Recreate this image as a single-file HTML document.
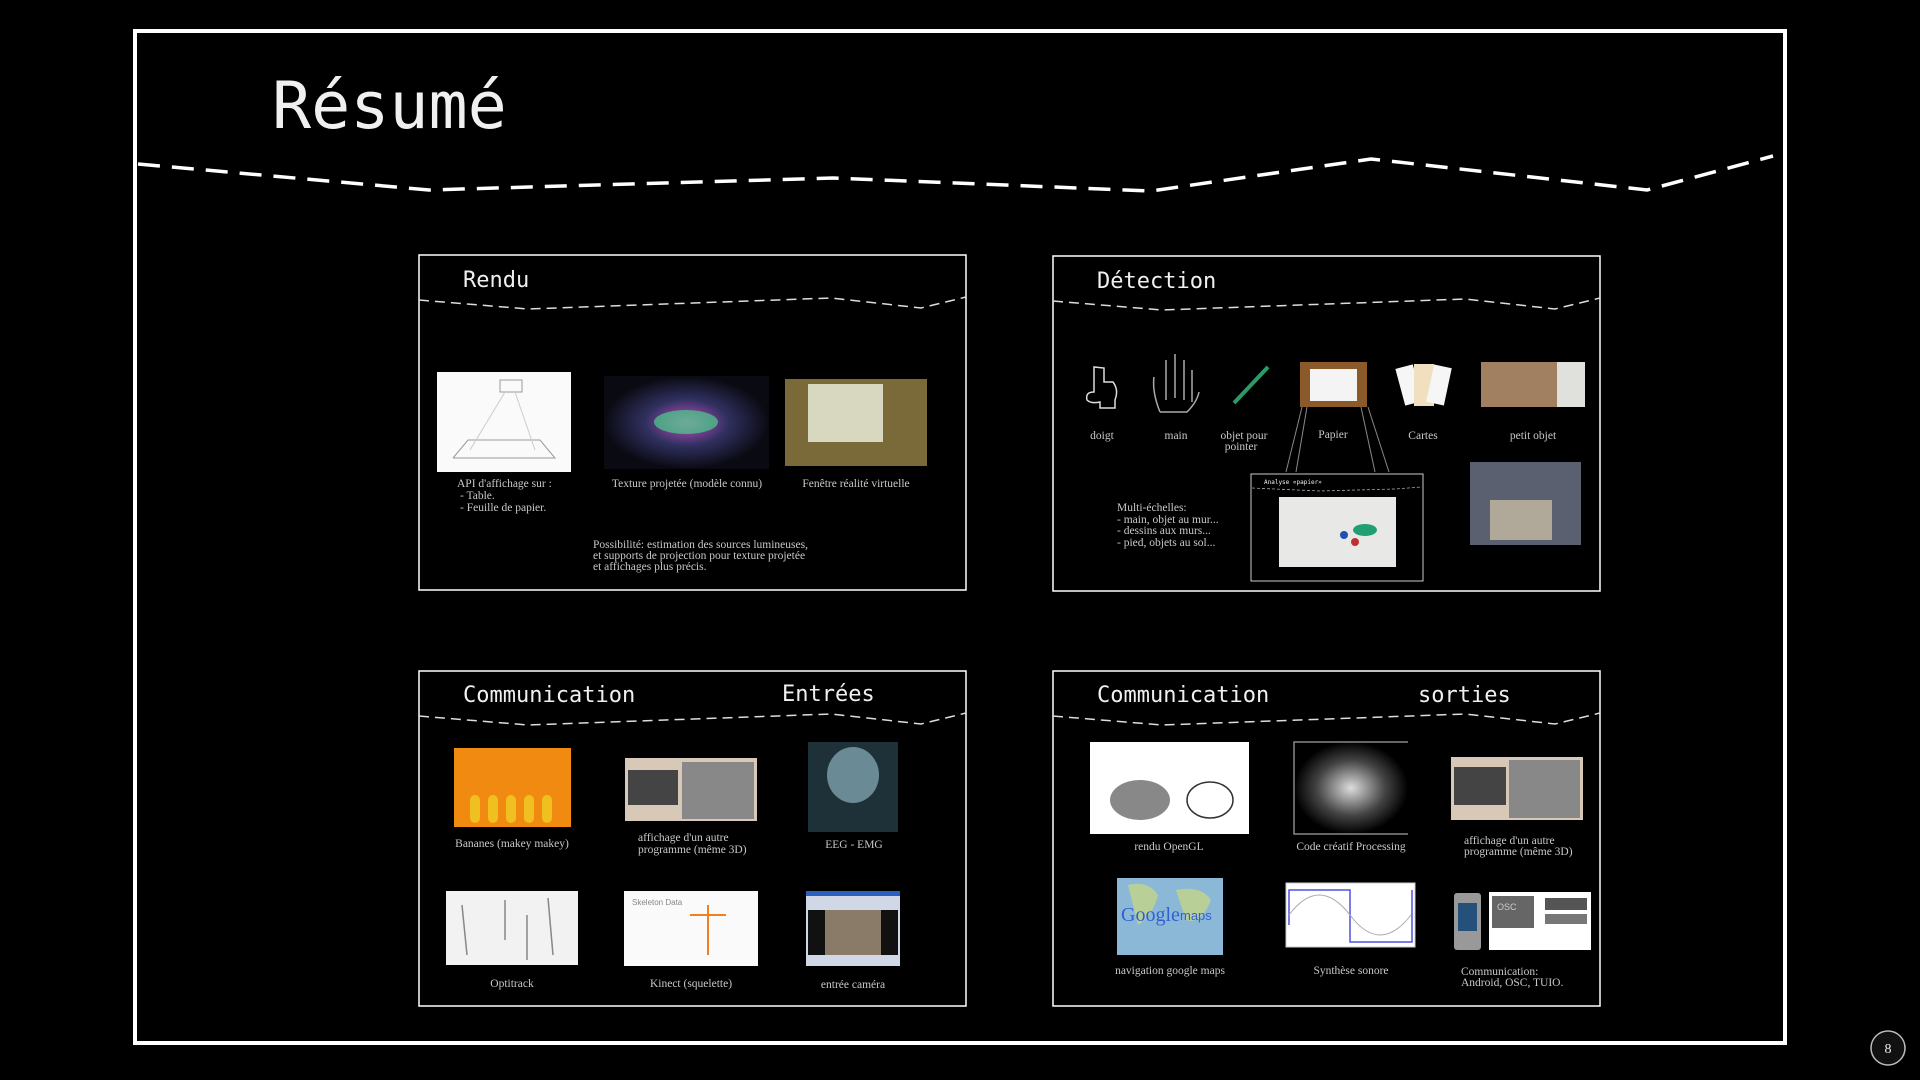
<!DOCTYPE html>
<html><head><meta charset="utf-8"><style>
html,body{margin:0;padding:0;background:#000;width:1920px;height:1080px;overflow:hidden}
svg{display:block}
.t{font-family:"Liberation Serif",serif;font-size:11.5px;fill:#c8c8c8}
.m{font-family:"DejaVu Sans Mono","Liberation Mono",monospace;fill:#f0f0f0}
</style></head><body>
<svg width="1920" height="1080" viewBox="0 0 1920 1080" xmlns="http://www.w3.org/2000/svg">
<defs>
<radialGradient id="rg" cx="50%" cy="50%" r="50%"><stop offset="0" stop-color="#ddd"/><stop offset="0.6" stop-color="#444"/><stop offset="1" stop-color="#000"/></radialGradient>
<radialGradient id="car" cx="50%" cy="50%" r="50%"><stop offset="0" stop-color="#c050c0"/><stop offset="0.5" stop-color="#303060"/><stop offset="1" stop-color="#0a0a12"/></radialGradient>
<g id="pd"><polyline points="0,45 109,54 412,43 502,53 547,42" fill="none" stroke="#ddd" stroke-width="1.5" stroke-dasharray="10,6"/></g>
</defs>
<rect x="135" y="31" width="1650" height="1012" fill="none" stroke="#fff" stroke-width="4"/>
<text x="272" y="128" class="m" font-size="65">Résumé</text>
<polyline points="138,164 429,190 833,178 1151,191 1371,159 1647,190 1773,156" fill="none" stroke="#fff" stroke-width="3.5" stroke-dasharray="22,12"/>

<!-- Rendu -->
<rect x="419" y="255" width="547" height="335" fill="none" stroke="#fff" stroke-width="1.5"/>
<text x="463" y="287" class="m" font-size="22">Rendu</text>
<use href="#pd" x="419" y="255"/>
<rect x="437" y="372" width="134" height="100" fill="#fafafa"/>
<polyline points="453,458 555,458 540,440 468,440 453,458" fill="none" stroke="#999"/>
<rect x="500" y="380" width="22" height="12" fill="none" stroke="#999"/>
<line x1="505" y1="392" x2="470" y2="450" stroke="#ccc"/><line x1="515" y1="392" x2="535" y2="450" stroke="#ccc"/>
<rect x="604" y="376" width="165" height="93" fill="url(#car)"/>
<ellipse cx="686" cy="422" rx="32" ry="12" fill="#4ad08a" opacity="0.7"/>
<rect x="785" y="379" width="142" height="87" fill="#7a6a3a"/>
<rect x="808" y="384" width="75" height="58" fill="#d8d8c0"/>
<text class="t" x="457" y="487">API d'affichage sur :</text>
<text class="t" x="460" y="499">- Table.</text>
<text class="t" x="460" y="511">- Feuille de papier.</text>
<text class="t" x="687" y="487" text-anchor="middle">Texture projetée (modèle connu)</text>
<text class="t" x="856" y="487" text-anchor="middle">Fenêtre réalité virtuelle</text>
<text class="t" x="593" y="548">Possibilité: estimation des sources lumineuses,</text>
<text class="t" x="593" y="559">et supports de projection pour texture projetée</text>
<text class="t" x="593" y="570">et affichages plus précis.</text>

<!-- Détection -->
<rect x="1053" y="256" width="547" height="335" fill="none" stroke="#fff" stroke-width="1.5"/>
<text x="1097" y="288" class="m" font-size="22">Détection</text>
<use href="#pd" x="1053" y="256"/>
<path d="M1094,367 v25 q-9,0 -7,8 q4,4 13,2 v6 h15 v-8 q4,-10 -2,-18 h-9 v-14 z" fill="none" stroke="#ddd" stroke-width="1.5"/>
<path d="M1160,412 q-8,-20 -6,-35 M1166,400 v-40 M1175,398 v-44 M1184,400 v-40 M1192,402 v-32 M1160,412 h27 q10,-10 12,-20" fill="none" stroke="#aaa" stroke-width="1.5"/>
<line x1="1234" y1="403" x2="1268" y2="367" stroke="#2a9a6a" stroke-width="4"/>
<rect x="1300" y="362" width="67" height="45" fill="#8a5a2a"/>
<rect x="1310" y="369" width="47" height="32" fill="#f4f4f4"/>
<rect x="1400" y="366" width="18" height="38" fill="#f6f6f6" transform="rotate(-15 1409 385)"/>
<rect x="1414" y="364" width="20" height="42" fill="#f0e0c0"/>
<rect x="1430" y="366" width="18" height="38" fill="#f6f6f6" transform="rotate(12 1439 385)"/>
<rect x="1481" y="362" width="76" height="45" fill="#a08060"/>
<rect x="1557" y="362" width="28" height="45" fill="#e0e0dc"/>
<text class="t" x="1102" y="439" text-anchor="middle">doigt</text>
<text class="t" x="1176" y="439" text-anchor="middle">main</text>
<text class="t" x="1244" y="439" text-anchor="middle">objet pour</text>
<text class="t" x="1241" y="450" text-anchor="middle">pointer</text>
<text class="t" x="1333" y="438" text-anchor="middle">Papier</text>
<text class="t" x="1423" y="439" text-anchor="middle">Cartes</text>
<text class="t" x="1533" y="439" text-anchor="middle">petit objet</text>
<g stroke="#888" stroke-width="1"><line x1="1302" y1="407" x2="1286" y2="472"/><line x1="1307" y1="407" x2="1296" y2="472"/><line x1="1361" y1="407" x2="1375" y2="472"/><line x1="1368" y1="407" x2="1389" y2="472"/></g>
<rect x="1251" y="474" width="172" height="107" fill="#000" stroke="#ccc" stroke-width="1"/>
<text x="1264" y="484" class="m" font-size="6">Analyse «papier»</text>
<polyline points="1252,488 1320,491 1395,489 1422,487" fill="none" stroke="#aaa" stroke-width="0.8" stroke-dasharray="3,2"/>
<rect x="1279" y="497" width="117" height="70" fill="#e8e8e6"/>
<ellipse cx="1365" cy="530" rx="12" ry="6" fill="#20a070"/>
<circle cx="1344" cy="535" r="4" fill="#2050b0"/><circle cx="1355" cy="542" r="4" fill="#c03030"/>
<rect x="1470" y="462" width="111" height="83" fill="#5a6070"/>
<rect x="1490" y="500" width="62" height="40" fill="#b0a898"/>
<text class="t" x="1117" y="511">Multi-échelles:</text>
<text class="t" x="1117" y="523">- main, objet au mur...</text>
<text class="t" x="1117" y="534">- dessins aux murs...</text>
<text class="t" x="1117" y="546">- pied, objets au sol...</text>

<!-- Communication Entrées -->
<rect x="419" y="671" width="547" height="335" fill="none" stroke="#fff" stroke-width="1.5"/>
<text x="463" y="702" class="m" font-size="22">Communication</text>
<text x="782" y="701" class="m" font-size="22">Entrées</text>
<use href="#pd" x="419" y="671"/>
<rect x="454" y="748" width="117" height="79" fill="#f08a10"/>
<g fill="#f0c020"><rect x="470" y="795" width="10" height="28" rx="5"/><rect x="488" y="795" width="10" height="28" rx="5"/><rect x="506" y="795" width="10" height="28" rx="5"/><rect x="524" y="795" width="10" height="28" rx="5"/><rect x="542" y="795" width="10" height="28" rx="5"/></g>
<rect x="625" y="758" width="132" height="63" fill="#d8c8b8"/>
<rect x="628" y="770" width="50" height="35" fill="#444"/><rect x="682" y="762" width="72" height="57" fill="#888"/>
<rect x="808" y="742" width="90" height="90" fill="#1e3038"/>
<ellipse cx="853" cy="775" rx="26" ry="28" fill="#6a8a96"/>
<text class="t" x="512" y="847" text-anchor="middle">Bananes (makey makey)</text>
<text class="t" x="638" y="841">affichage d'un autre</text>
<text class="t" x="638" y="853">programme (même 3D)</text>
<text class="t" x="854" y="848" text-anchor="middle">EEG - EMG</text>
<rect x="446" y="891" width="132" height="74" fill="#f2f2f2"/>
<g stroke="#888" stroke-width="1.5"><line x1="462" y1="905" x2="467" y2="955"/><line x1="505" y1="900" x2="505" y2="940"/><line x1="548" y1="898" x2="553" y2="955"/><line x1="527" y1="915" x2="527" y2="960"/></g>
<rect x="624" y="891" width="134" height="75" fill="#fafafa"/>
<text x="632" y="905" font-family="Liberation Sans,sans-serif" font-size="8" fill="#888">Skeleton Data</text>
<line x1="708" y1="905" x2="708" y2="955" stroke="#f08020" stroke-width="2"/>
<line x1="690" y1="915" x2="726" y2="915" stroke="#f08020" stroke-width="2"/>
<rect x="806" y="891" width="94" height="75" fill="#d0d8e8"/>
<rect x="806" y="891" width="94" height="5" fill="#2a60c0"/>
<rect x="808" y="910" width="90" height="45" fill="#111"/><rect x="825" y="910" width="56" height="45" fill="#8a7a68"/>
<text class="t" x="512" y="987" text-anchor="middle">Optitrack</text>
<text class="t" x="691" y="987" text-anchor="middle">Kinect (squelette)</text>
<text class="t" x="853" y="988" text-anchor="middle">entrée caméra</text>

<!-- Communication sorties -->
<rect x="1053" y="671" width="547" height="335" fill="none" stroke="#fff" stroke-width="1.5"/>
<text x="1097" y="702" class="m" font-size="22">Communication</text>
<text x="1418" y="702" class="m" font-size="22">sorties</text>
<use href="#pd" x="1053" y="671"/>
<rect x="1090" y="742" width="159" height="92" fill="#fff"/>
<ellipse cx="1140" cy="800" rx="30" ry="20" fill="#888"/>
<ellipse cx="1210" cy="800" rx="23" ry="18" fill="none" stroke="#333" stroke-width="1.5"/>
<rect x="1294" y="742" width="114" height="92" fill="url(#rg)"/>
<polyline points="1408,742 1294,742 1294,834 1408,834" fill="none" stroke="#888" stroke-width="1.5"/>
<rect x="1451" y="757" width="132" height="63" fill="#d8c8b8"/>
<rect x="1454" y="767" width="52" height="38" fill="#444"/><rect x="1509" y="760" width="71" height="58" fill="#888"/>
<text class="t" x="1169" y="850" text-anchor="middle">rendu OpenGL</text>
<text class="t" x="1351" y="850" text-anchor="middle">Code créatif Processing</text>
<text class="t" x="1464" y="844">affichage d'un autre</text>
<text class="t" x="1464" y="855">programme (même 3D)</text>
<rect x="1117" y="878" width="106" height="77" fill="#8cb8d8"/>
<path d="M1128,885 q20,-5 30,10 q-5,20 -20,30 z M1176,890 q25,-5 35,10 q-10,25 -25,20 z" fill="#b8d098"/>
<text x="1121" y="921" font-family="Liberation Serif,serif" font-size="20" fill="#3060d0">Google</text>
<text x="1180" y="920" font-family="Liberation Sans,sans-serif" font-size="13" fill="#3060d0">maps</text>
<rect x="1286" y="883" width="129" height="64" fill="#fff" stroke="#ccc"/>
<polyline points="1289,925 1289,890 1350,890 1350,942 1412,942 1412,890" fill="none" stroke="#5050e0" stroke-width="1.5"/>
<path d="M1289,915 q30,-40 61,0 q30,40 61,0" fill="none" stroke="#aaa"/>
<rect x="1454" y="893" width="27" height="57" rx="3" fill="#999"/>
<rect x="1458" y="903" width="19" height="28" fill="#24507a"/>
<rect x="1489" y="892" width="102" height="58" fill="#fff"/>
<rect x="1492" y="896" width="42" height="32" fill="#666"/>
<text x="1497" y="910" font-family="Liberation Sans,sans-serif" font-size="9" fill="#ccc">OSC</text>
<rect x="1545" y="898" width="42" height="12" fill="#555"/><rect x="1545" y="914" width="42" height="10" fill="#777"/>
<text class="t" x="1170" y="974" text-anchor="middle">navigation google maps</text>
<text class="t" x="1351" y="974" text-anchor="middle">Synthèse sonore</text>
<text class="t" x="1461" y="975">Communication:</text>
<text class="t" x="1461" y="986">Android, OSC, TUIO.</text>

<circle cx="1888" cy="1048" r="17" fill="#111" stroke="#bbb" stroke-width="1.5"/>
<text x="1888" y="1053" text-anchor="middle" font-family="Liberation Serif,serif" font-size="14" fill="#eee">8</text>
</svg>
</body></html>
